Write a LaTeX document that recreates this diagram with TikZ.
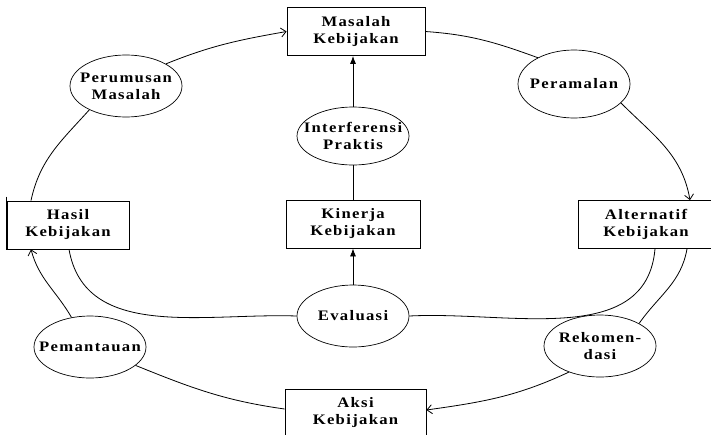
\documentclass[tikz,border=0pt]{standalone}
\usepackage{fontspec}
\setmainfont{Liberation Serif}
\newfontfamily\cyclefont[LetterSpace=9,FakeStretch=1.15]{Liberation Serif}
\usetikzlibrary{arrows.meta,shapes.geometric}
\begin{document}
\begin{tikzpicture}[x=1pt,y=-1pt,
  txt/.style={font=\cyclefont\bfseries\fontsize{14.5}{17}\selectfont, align=center, inner sep=0pt},
  box/.style={draw, line width=0.8pt, rectangle, inner sep=0pt,
              minimum width=#1, minimum height=48pt, txt},
  oval/.style={draw, line width=0.7pt, ellipse, inner sep=0pt,
               minimum width=112pt, minimum height=#1},
  oval/.default=62pt,
  link/.style={line width=0.8pt},
  openarrow/.style={link, -{Straight Barb[length=5pt,width=9pt,line width=0.8pt]}},
  fillarrow/.style={link, -{Latex[length=8pt,width=6pt]}}
]
\useasboundingbox (0,0) rectangle (711,434);
\clip (0,0) rectangle (711,434);
\fill[white] (0,0) rectangle (711,434);

% boxes
\node[box=138pt] (mk) at (356,31.5) {Masalah\\Kebijakan};
\node[box=122pt] (hk) at (68,225) {Hasil\\Kebijakan};
\node[box=134pt] (kk) at (353,224) {Kinerja\\Kebijakan};
\node[box=136pt] (ak) at (646,224.5) {Alternatif\\Kebijakan};
\node[box=141pt] (ax) at (355.5,413) {Aksi\\Kebijakan};
\draw[line width=1.4pt] ([yshift=4pt]hk.north west) -- ([yshift=-1pt]hk.south west);

% process ovals
\node[oval] (pm) at (126,86) {};
\node[txt] (pm-t) at (pm) {Perumusan\\Masalah};
\node[oval=68pt] (pr) at (574,84) {};
\node[txt] (pr-t) at (pr) {Peramalan};
\node[oval=58pt] (ip) at (353,136) {};
\node[txt] (ip-t) at (ip) {Interferensi\\Praktis};
\node[oval] (ev) at (353,316) {};
\node[txt] (ev-t) at (ev) {Evaluasi};
\node[oval] (pe) at (90,347) {};
\node[txt] (pe-t) at (pe) {Pemantauan};
\node[oval] (rk) at (600,346) {};
\node[txt] (rk-t) at (rk) {Rekomen-\\dasi};

% outer cycle
\draw[link] ([xshift=-37pt]hk.north) to[out=78,in=228] (pm.213);
\draw[openarrow] (pm.29) to[out=22,in=190] (mk.west);
\draw[link] (mk.east) to[out=-4,in=160] (pr.144);
\draw[openarrow] (pr.338) to[out=-45,in=100] ([xshift=44pt]ak.north);
\draw[link] ([xshift=41pt]ak.south) to[out=-100,in=55] (rk.30);
\draw[openarrow] (rk.220) to[out=205,in=8] ([yshift=3pt]ax.east);
\draw[link] (pe.338) to[out=-22,in=172] ([yshift=4pt]ax.west);
\draw[openarrow] (pe.122) to[out=120,in=-75] ([xshift=-37pt]hk.south);

% evaluation branch
\draw[link] ([xshift=1pt]hk.south) to[out=-80,in=178] (ev.west);
\draw[link] ([xshift=9pt]ak.south) to[out=-95,in=3] (ev.east);

% central column
\draw[fillarrow] (ev.north) -- (ev.north |- kk.south);
\draw[link] (kk.north) -- (kk.north |- ip.south);
\draw[fillarrow] (ip.north) -- (ip.north |- mk.south);
\end{tikzpicture}
\end{document}
